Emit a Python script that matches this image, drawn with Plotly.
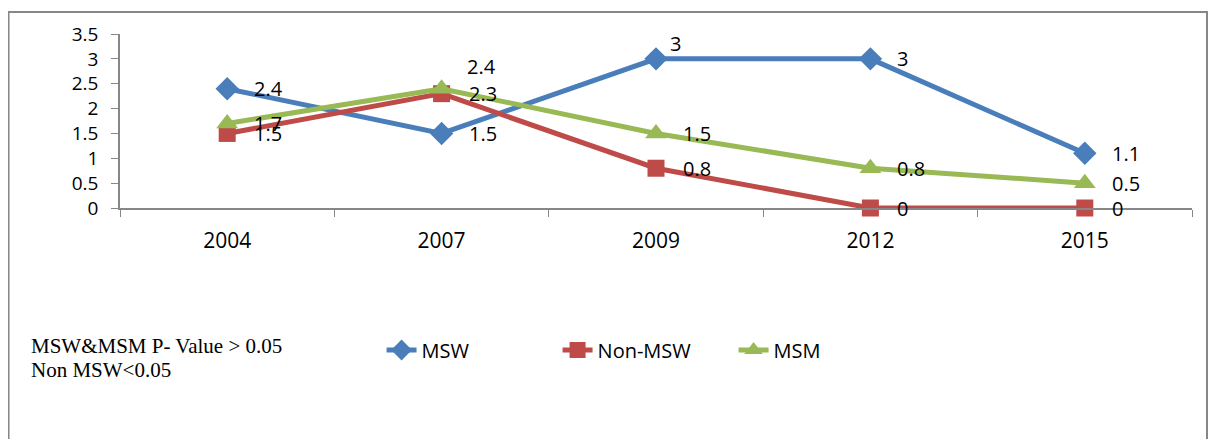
import plotly.graph_objects as go

years = ["2004", "2007", "2009", "2012", "2015"]
msw = [2.4, 1.5, 3, 3, 1.1]
non_msw = [1.5, 2.3, 0.8, 0, 0]
msm = [1.7, 2.4, 1.5, 0.8, 0.5]
y_ticks = [0, 0.5, 1, 1.5, 2, 2.5, 3, 3.5]
note_lines = ["MSW&MSM P- Value > 0.05", "Non MSW<0.05"]

series = [
    ("MSW", msw, "#4A7EBB", "diamond", 18),
    ("Non-MSW", non_msw, "#BE4B48", "square", 17),
    ("MSM", msm, "#98B954", "triangle-up", 19),
]

# label offsets (px) for labels that sit above-right instead of right
label_shift = {("MSW", "2009"): (12, 15), ("MSM", "2007"): (23, 22)}

fig = go.Figure()
for name, vals, col, sym, sz in series:
    fig.add_trace(go.Scatter(
        x=years, y=vals, name=name, mode="lines+markers",
        line=dict(color=col, width=5), cliponaxis=False,
        marker=dict(symbol=sym, size=sz, color=col),
    ))

annotations = []
for name, vals, col, sym, sz in series:
    for i, (yr, v) in enumerate(zip(years, vals)):
        xs, ys = label_shift.get((name, yr), (25, 0))
        annotations.append(dict(
            x=i, y=v, xref="x", yref="y", text=f"{v:g}", showarrow=False,
            xanchor="left", yanchor="middle", xshift=xs, yshift=ys,
            font=dict(family="Open Sans", size=20, color="black"),
        ))

for j, line in enumerate(note_lines):
    annotations.append(dict(
        xref="paper", yref="paper", x=-0.0849, y=-0.793, xanchor="left",
        yanchor="middle", yshift=-24 * j, align="left", showarrow=False,
        text=line, font=dict(family="Liberation Serif", size=21, color="black"),
    ))

fig.update_layout(
    width=1216, height=439,
    margin=dict(l=112, r=32, t=26, b=239),
    paper_bgcolor="white", plot_bgcolor="white",
    showlegend=True,
    legend=dict(
        orientation="h", x=0.244, y=-0.816, xanchor="left", yanchor="middle",
        entrywidth=131, entrywidthmode="pixels",
        font=dict(family="Open Sans", size=20, color="black"),
        bgcolor="rgba(0,0,0,0)",
    ),
    xaxis=dict(
        type="category", range=[-0.5, 4.5], showgrid=False,
        showline=True, linecolor="#878787", linewidth=1.5,
        ticks="outside", tickson="boundaries", ticklen=7, tickcolor="#878787",
        tickfont=dict(family="Open Sans", size=21, color="black"),
        ticklabelstandoff=13,
    ),
    yaxis=dict(
        range=[0, 3.5], tickvals=y_ticks, ticktext=[f"{t:g}" for t in y_ticks],
        showgrid=False, zeroline=False,
        showline=True, linecolor="#878787", linewidth=1.5,
        ticks="outside", ticklen=7, tickcolor="#878787",
        tickfont=dict(family="Open Sans", size=19, color="black"),
        ticklabelstandoff=9,
    ),
    annotations=annotations,
    shapes=[dict(
        type="rect", xref="paper", yref="paper",
        x0=-0.104, x1=1.014, y0=-2.0, y1=1.126,
        line=dict(color="#878787", width=2), layer="below",
    )],
)

fig.write_html("out.html")
